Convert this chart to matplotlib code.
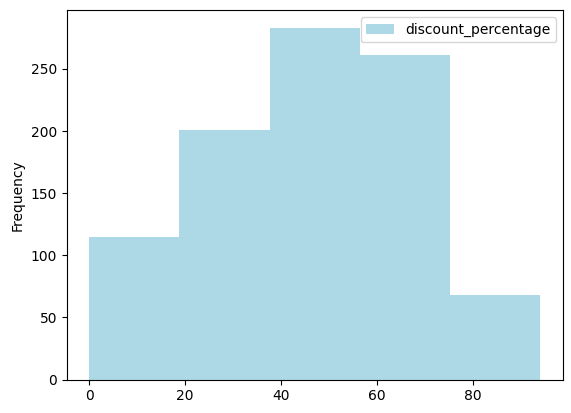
import matplotlib
matplotlib.use("Agg")
import matplotlib.pyplot as plt
import numpy as np

# histogram of discount_percentage, 5 bins
bin_min = 0.0
bin_max = 94.0
n_bins = 5
counts = [115, 201, 283, 261, 68]
series_name = "discount_percentage"

edges = np.linspace(bin_min, bin_max, n_bins + 1)
centers = (edges[:-1] + edges[1:]) / 2

fig = plt.figure(figsize=(5.71, 4.13), dpi=100)
ax = fig.add_axes([66.7 / 571, (413 - 379.5) / 413, 496 / 571, 369.2 / 413])

ax.hist(centers, bins=edges, weights=counts, color="lightblue", label=series_name)
ax.set_ylabel("Frequency")
ax.legend()

fig.savefig("out.png", dpi=100)
